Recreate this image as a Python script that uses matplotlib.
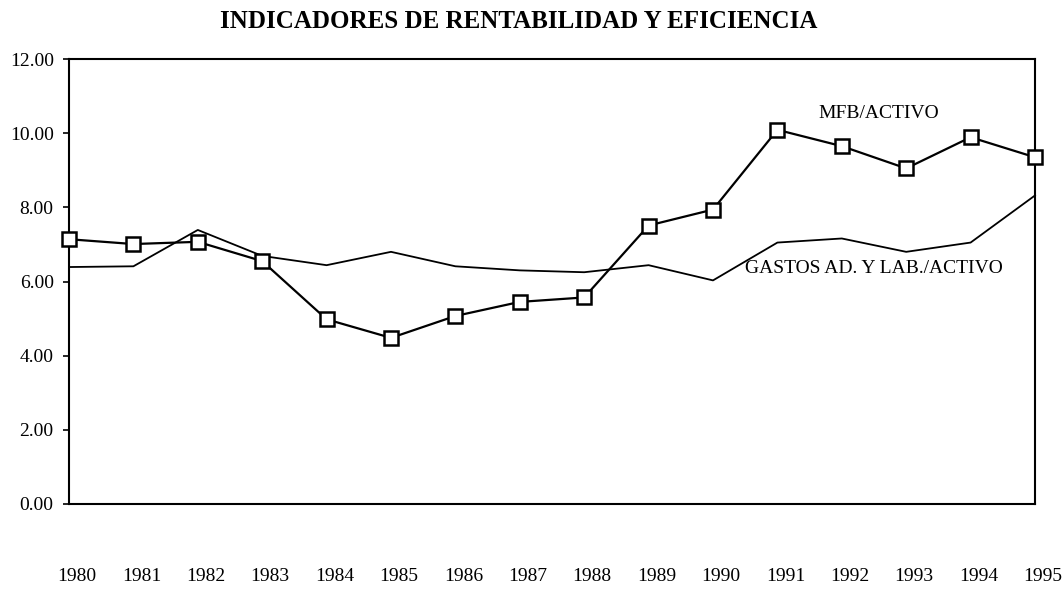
import matplotlib
matplotlib.use("Agg")
import matplotlib.pyplot as plt
import matplotlib.transforms as mtransforms

# data
years = list(range(1980, 1996))
mfb_activo = [7.14, 7.01, 7.07, 6.55, 4.98, 4.48, 5.07, 5.45,
              5.57, 7.51, 7.94, 10.09, 9.65, 9.05, 9.89, 9.35]
gastos_activo = [6.39, 6.41, 7.39, 6.69, 6.44, 6.80, 6.41, 6.30,
                 6.25, 6.44, 6.03, 7.05, 7.16, 6.80, 7.05, 8.32]
y_ticks = [0, 2, 4, 6, 8, 10, 12]

plt.rcParams['font.family'] = ['Liberation Serif', 'DejaVu Serif']

fig = plt.figure(figsize=(10.63, 5.90), dpi=100, facecolor='white')
ax = fig.add_axes([69 / 1063, 1 - 504 / 590, (1035 - 69) / 1063, (504 - 59) / 590])

ax.plot(years, gastos_activo, color='black', lw=1.3, clip_on=False, zorder=2)
ax.plot(years, mfb_activo, color='black', lw=1.6, marker='s', markersize=9.5,
        markerfacecolor='white', markeredgecolor='black', markeredgewidth=1.8,
        clip_on=False, zorder=3)

ax.set_xlim(1980, 1995)
ax.set_ylim(0, 12)
ax.set_yticks(y_ticks)
ax.set_yticklabels([f"{v:.2f}" for v in y_ticks], fontsize=14)
ax.set_xticks(years)
ax.set_xticklabels([str(y) for y in years], fontsize=14)
ax.tick_params(axis='y', direction='out', length=4, width=1.2, pad=7)
ax.tick_params(axis='x', length=0, pad=46)

# year labels sit a little right of their points in the original
shift = mtransforms.ScaledTranslation(8 / 100, 0, fig.dpi_scale_trans)
for lab in ax.get_xticklabels():
    lab.set_transform(lab.get_transform() + shift)

for sp in ax.spines.values():
    sp.set_linewidth(1.5)
    sp.set_color('black')

ax.text(1991.63, 10.54, "MFB/ACTIVO", fontsize=14, ha='left', va='center')
ax.text(1990.5, 6.35, "GASTOS AD. Y LAB./ACTIVO", fontsize=14, ha='left', va='center')

fig.text(220 / 1063, 1 - 22 / 590, "INDICADORES DE RENTABILIDAD Y EFICIENCIA",
         fontsize=18, fontweight='bold', ha='left', va='center')

fig.savefig("out.png", dpi=100, facecolor='white')
